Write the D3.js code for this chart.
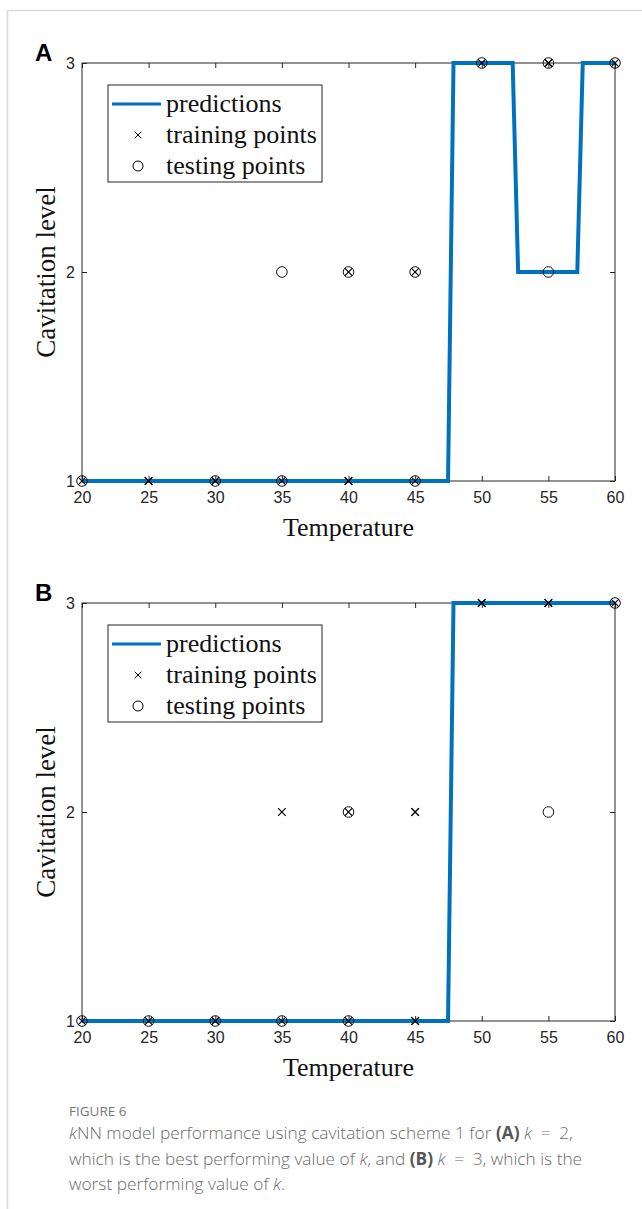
<!DOCTYPE html>
<html><head><meta charset="utf-8">
<script src="https://cdn.jsdelivr.net/npm/d3@7"></script>
<style>
html,body{margin:0;padding:0;background:#fff;}
svg{display:block;}
</style></head>
<body>
<svg id="chart" width="642" height="1209"></svg>
<script>
// ---------- data ----------
const xTicks = [20, 25, 30, 35, 40, 45, 50, 55, 60];
const yTicks = [1, 2, 3];
const panelLabels = ["A", "B"];

// Panel A (k = 2)
const predA = [[20,1],[47.47,1],[47.88,3],[52.32,3],[52.73,2],[57.17,2],[57.58,3],[60,3]];
const trainA = [[20,1],[25,1],[25,1],[30,1],[30,1],[35,1],[40,1],[40,1],[45,1],[40,2],[45,2],[50,3],[55,3],[55,3],[60,3]];
const testA  = [[20,1],[30,1],[35,1],[45,1],[35,2],[40,2],[45,2],[55,2],[50,3],[55,3],[60,3]];

// Panel B (k = 3)
const predB = [[20,1],[47.47,1],[47.88,3],[60,3]];
const trainB = [[20,1],[25,1],[30,1],[30,1],[35,1],[40,1],[45,1],[45,1],[35,2],[40,2],[45,2],[45,2],[50,3],[50,3],[55,3],[55,3],[60,3]];
const testB  = [[20,1],[25,1],[30,1],[35,1],[40,1],[40,2],[55,2],[60,3]];

const legendLabels = ["predictions", "training points", "testing points"];

// ---------- drawing ----------
const svg = d3.select("#chart");
const blue = "#0072BD", axisCol = "#262626";

// card border
svg.append("line").attr("x1",7.5).attr("x2",7.5).attr("y1",10).attr("y2",1209).attr("stroke","#d9d9d9").attr("stroke-width",1.5);
svg.append("line").attr("x1",7).attr("x2",642).attr("y1",10.5).attr("y2",10.5).attr("stroke","#d9d9d9").attr("stroke-width",1.5);

const panels = [
  {label: panelLabels[0], top: 63, pred: predA, train: trainA, test: testA},
  {label: panelLabels[1], top: 603, pred: predB, train: trainB, test: testB}
];
const left = 82, right = 615, h = 418;
const serif = "'Liberation Serif', 'Times New Roman', serif";

panels.forEach(p => {
  const g = svg.append("g");
  const x = d3.scaleLinear().domain([20,60]).range([left,right]);
  const y = d3.scaleLinear().domain([1,3]).range([p.top+h, p.top]);

  // axes box
  g.append("rect").attr("x",left).attr("y",p.top).attr("width",right-left).attr("height",h)
    .attr("fill","none").attr("stroke",axisCol).attr("stroke-width",1);

  const tickFont = g => g.selectAll("text").attr("font-family","'Liberation Sans', Arial, sans-serif").attr("font-size",16).attr("fill",axisCol);
  // bottom axis
  g.append("g").attr("transform",`translate(0,${p.top+h})`)
    .call(d3.axisBottom(x).tickValues(xTicks).tickSize(-5).tickPadding(11).tickFormat(d3.format("d")))
    .call(a=>a.select(".domain").remove()).call(a=>a.selectAll("line").attr("stroke",axisCol)).call(tickFont);
  // top axis ticks
  g.append("g").attr("transform",`translate(0,${p.top})`)
    .call(d3.axisTop(x).tickValues(xTicks).tickSize(-5).tickFormat(""))
    .call(a=>a.select(".domain").remove()).call(a=>a.selectAll("line").attr("stroke",axisCol));
  // left axis
  g.append("g").attr("transform",`translate(${left},0)`)
    .call(d3.axisLeft(y).tickValues(yTicks).tickSize(-5).tickPadding(7).tickFormat(d3.format("d")))
    .call(a=>a.select(".domain").remove()).call(a=>a.selectAll("line").attr("stroke",axisCol)).call(tickFont);
  // right axis ticks
  g.append("g").attr("transform",`translate(${right},0)`)
    .call(d3.axisRight(y).tickValues(yTicks).tickSize(-5).tickFormat(""))
    .call(a=>a.select(".domain").remove()).call(a=>a.selectAll("line").attr("stroke",axisCol));

  // prediction line
  g.append("path").datum(p.pred)
    .attr("d", d3.line().x(d=>x(d[0])).y(d=>y(d[1])))
    .attr("fill","none").attr("stroke",blue).attr("stroke-width",4).attr("stroke-linejoin","miter");

  // testing circles
  g.selectAll(".test").data(p.test).join("circle")
    .attr("cx",d=>x(d[0])).attr("cy",d=>y(d[1])).attr("r",5.3)
    .attr("fill","none").attr("stroke","#111").attr("stroke-width",1);
  // training crosses
  const s = 3.8;
  g.selectAll(".train").data(p.train).join("path")
    .attr("d",d=>{const cx=x(d[0]), cy=y(d[1]); return `M${cx-s},${cy-s}L${cx+s},${cy+s}M${cx-s},${cy+s}L${cx+s},${cy-s}`;})
    .attr("stroke","#000").attr("stroke-width",1.2).attr("fill","none");

  // axis titles
  g.append("text").attr("x",(left+right)/2).attr("y",p.top+h+55).attr("text-anchor","middle")
    .attr("font-family",serif).attr("font-size",26).attr("fill","#111")
    .text("Temperature");
  g.append("text").attr("transform",`translate(55,${p.top+h/2}) rotate(-90)`).attr("text-anchor","middle")
    .attr("font-family",serif).attr("font-size",27).attr("fill","#111")
    .text("Cavitation level");

  // panel label
  g.append("text").attr("x",35).attr("y",p.top-2).attr("font-family","'Liberation Sans', Arial, sans-serif")
    .attr("font-weight","bold").attr("font-size",24).attr("fill","#000").text(p.label);

  // legend
  const lx = 108, ly = p.top+22, lw = 214, lh = 97;
  const lg = g.append("g");
  lg.append("rect").attr("x",lx).attr("y",ly).attr("width",lw).attr("height",lh)
    .attr("fill","#fff").attr("stroke",axisCol).attr("stroke-width",1);
  const rows = [ly+19, ly+50, ly+81];
  lg.append("line").attr("x1",lx+4).attr("x2",lx+53).attr("y1",rows[0]).attr("y2",rows[0]).attr("stroke",blue).attr("stroke-width",3);
  const mx = lx+30, ls = 3.3;
  lg.append("path").attr("d",`M${mx-ls},${rows[1]-ls}L${mx+ls},${rows[1]+ls}M${mx-ls},${rows[1]+ls}L${mx+ls},${rows[1]-ls}`).attr("stroke","#000").attr("stroke-width",1);
  lg.append("circle").attr("cx",mx).attr("cy",rows[2]).attr("r",5).attr("fill","none").attr("stroke","#000").attr("stroke-width",1);
  legendLabels.forEach((t,i)=>{
    lg.append("text").attr("x",lx+58).attr("y",rows[i]+8)
      .attr("font-family",serif).attr("font-size",26).attr("fill","#111").text(t);
  });
});

// caption
const cap = svg.append("g").attr("font-family","'Open Sans', 'Noto Sans', sans-serif").attr("fill","#6b6b6b");
cap.append("text").attr("x",69).attr("y",1116).attr("font-size",13.5).attr("font-weight",500).attr("fill","#777").text("FIGURE 6");
const capLines = [
  [["k","i"],["NN model performance using cavitation scheme 1 for ",""],["(A)","b"],[" ",""],["k","i"],["\u2002=\u20022,",""]],
  [["which is the best performing value of ",""],["k","i"],[", and ",""],["(B)","b"],[" ",""],["k","i"],["\u2002=\u20023, which is the",""]],
  [["worst performing value of ",""],["k","i"],[".",""]]
];
capLines.forEach((line,i)=>{
  const t = cap.append("text").attr("x",69).attr("y",1139+i*25.5).attr("font-size",17.3).attr("font-weight",300).attr("xml:space","preserve");
  line.forEach(([s,st])=>{
    const ts = t.append("tspan").text(s);
    if(st==="i") ts.attr("font-style","italic");
    if(st==="b") ts.attr("font-weight","bold").attr("fill","#555");
  });
});
</script>
</body></html>
